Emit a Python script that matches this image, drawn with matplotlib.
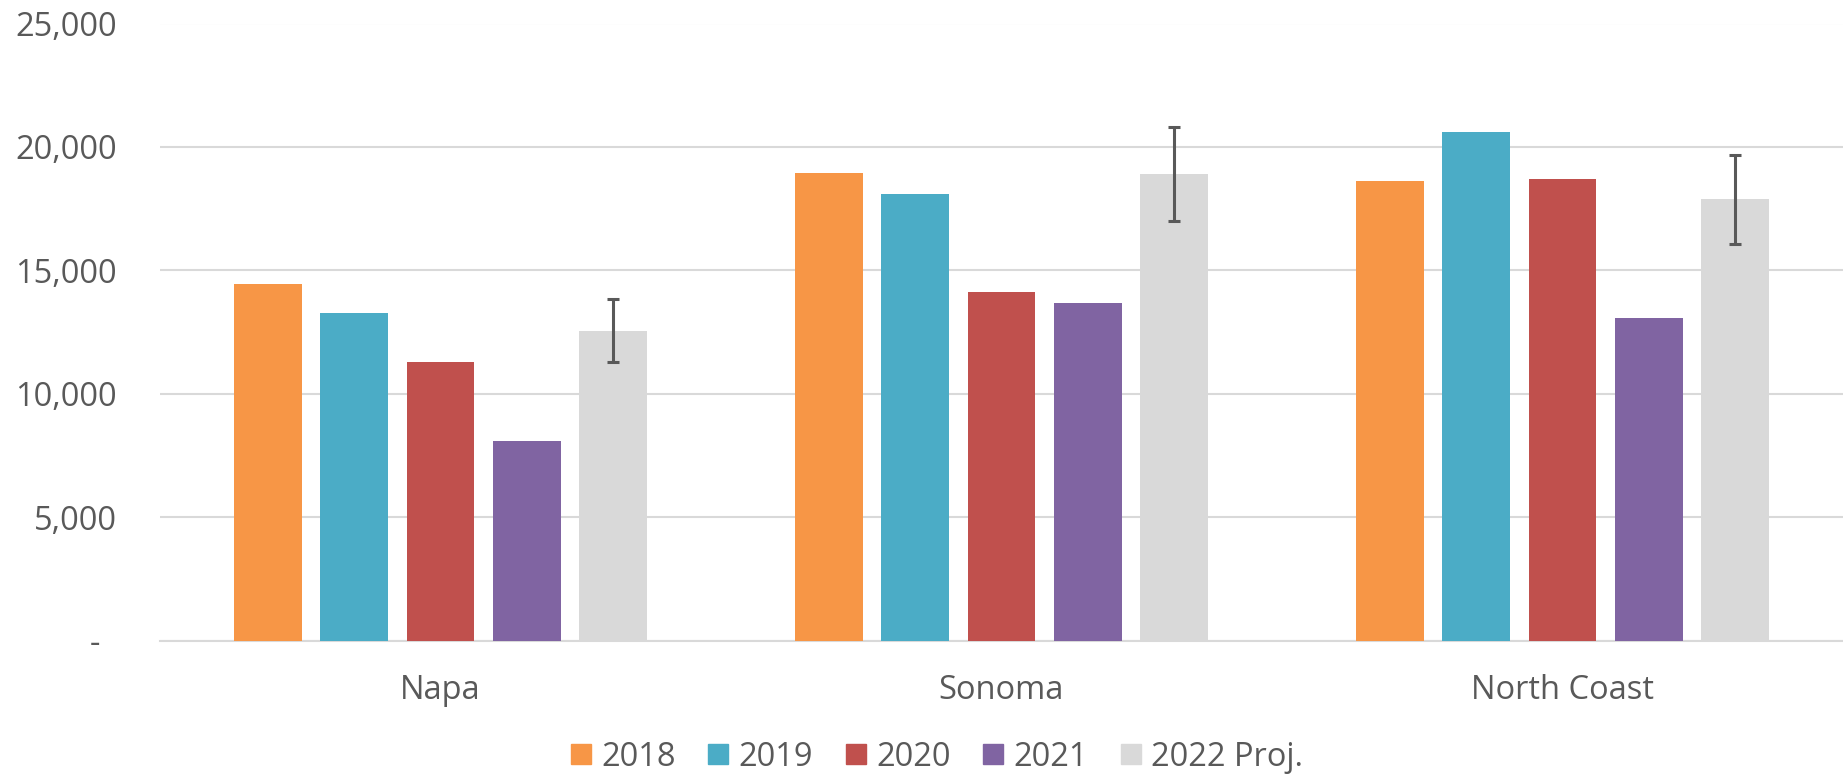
import matplotlib.pyplot as plt
import matplotlib.patches as mpatches
import numpy as np
from matplotlib.ticker import FuncFormatter

plt.rcParams['font.family'] = ['Open Sans', 'DejaVu Sans']

# data
regions = ["Napa", "Sonoma", "North Coast"]
years = ["2018", "2019", "2020", "2021", "2022 Proj."]
v2018 = [14450, 18950, 18630]
v2019 = [13260, 18100, 20620]
v2020 = [11280, 14140, 18700]
v2021 = [8090, 13690, 13070]
v2022 = [12560, 18890, 17870]
err2022 = [1280, 1900, 1800]

colors = ["#F79646", "#4BACC6", "#C0504D", "#8064A2", "#D9D9D9"]
text_col = "#595959"
grid_col = "#D9D9D9"

series = [v2018, v2019, v2020, v2021, v2022]

fig = plt.figure(figsize=(18.43, 7.74), dpi=100)
ax = fig.add_axes([160 / 1843, 1 - 640.6 / 774, 1 - 160 / 1843, (640.6 - 23.5) / 774])

x = np.arange(len(regions))
slot = 0.154
width = 0.121
for i, vals in enumerate(series):
    pos = x + (i - 2) * slot
    if i == 4:
        ax.bar(pos, vals, width, color=colors[i], zorder=2,
               yerr=err2022, ecolor=text_col,
               error_kw=dict(elinewidth=2.2, capsize=4.5, capthick=2.2, zorder=3))
    else:
        ax.bar(pos, vals, width, color=colors[i], zorder=2)

ax.set_xlim(-0.5, 2.5)
ax.set_ylim(0, 25000)
ax.set_yticks(np.arange(0, 25001, 5000))
ax.yaxis.set_major_formatter(FuncFormatter(lambda v, p: "-  " if v == 0 else f"{int(v):,}"))
ax.grid(axis="y", color=grid_col, linewidth=1.5, zorder=0)
ax.set_axisbelow(True)
for s in ["top", "right", "left"]:
    ax.spines[s].set_visible(False)
ax.spines["bottom"].set_color(grid_col)
ax.spines["bottom"].set_linewidth(1.5)
ax.spines["bottom"].set_zorder(1)

ax.set_xticks(x)
ax.set_xticklabels(regions)
ax.tick_params(axis="x", length=0, pad=24, labelsize=23.5, labelcolor=text_col)
ax.tick_params(axis="y", length=0, pad=31, labelsize=23.5, labelcolor=text_col)

handles = [mpatches.Patch(color=c, label=l) for c, l in zip(colors, years)]
leg = fig.legend(handles=handles, loc="center", bbox_to_anchor=(937 / 1843, 1 - 757 / 774),
                 ncol=5, frameon=False, fontsize=23.5, handlelength=0.61, handleheight=0.61,
                 handletextpad=0.32, columnspacing=1.0, borderpad=0)
for t in leg.get_texts():
    t.set_color(text_col)

fig.savefig("out.png", dpi=100)
